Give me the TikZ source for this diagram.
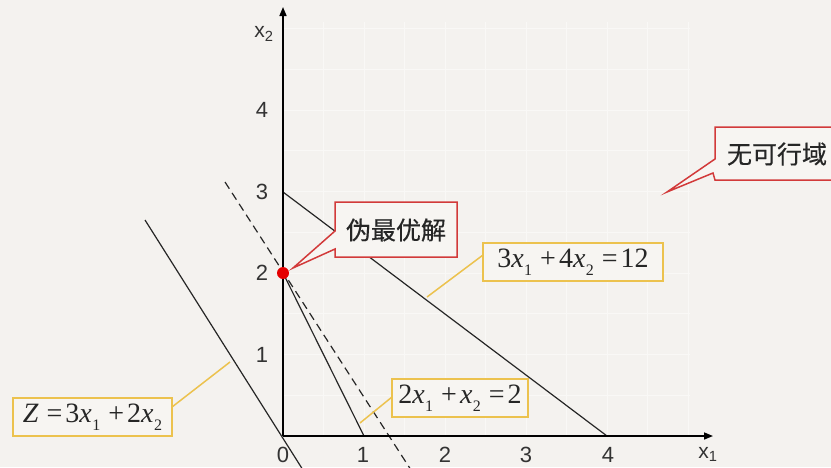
\documentclass[tikz,border=0pt]{standalone}
\usepackage{fontspec}
\setmainfont{Liberation Sans}
\newfontfamily\cjk[FakeBold=0.4]{Noto Sans CJK SC}
\newfontfamily\tms{Liberation Serif}
\usetikzlibrary{arrows.meta}
\definecolor{bg}{HTML}{F4F2EF}
\definecolor{gridc}{HTML}{F9F8F6}
\definecolor{boxbg}{HTML}{F7F5F2}
\definecolor{calred}{HTML}{D23A3A}
\definecolor{calyel}{HTML}{ECC24E}
\newcommand\vx[1]{\textit{x}\kern0.5pt\raisebox{-0.3em}{\fontsize{16}{16}\selectfont #1}}
\newcommand\opsp[1]{\hspace{8pt}#1\hspace{3pt}}
\tikzset{
  axis/.style={line width=1.6pt, -{Triangle[length=9pt,width=7pt]}},
  fline/.style={line width=1.2pt, black!85},
  num/.style={font=\fontsize{22}{22}\selectfont, text=black!80, inner sep=0pt},
  redbox/.style={draw=calred, line width=1.5pt, fill=boxbg, line join=miter},
  cjktext/.style={font=\cjk\fontsize{25}{25}\selectfont, text=black!85, inner sep=0pt},
  yelbox/.style={draw=calyel, line width=1.5pt, fill=boxbg, inner sep=0pt,
     font=\tms\fontsize{28}{28}\selectfont, text=black!85},
  yelline/.style={draw=calyel, line width=1.5pt},
}
\begin{document}
\begin{tikzpicture}[x=1pt,y=-1pt]
\fill[bg] (0,0) rectangle (831,467);
\useasboundingbox (0,0) rectangle (831,467);
% grid
\foreach \gx in {323.5,364,404.5,445,485.5,526,566.5,607,647.5,688}
  \draw[gridc, line width=0.8pt] (\gx,22) -- (\gx,436);
\foreach \gy in {395,354.5,313.75,273,232,191.5,150.75,110,69,28}
  \draw[gridc, line width=0.8pt] (283,\gy) -- (690,\gy);
% function lines
\draw[fline] (283,192) -- (607,436);
\draw[fline] (283,273) -- (364,436);
\draw[fline, dash pattern=on 8pt off 5pt] (225,182) -- (411,470);
\draw[fline] (145,220) -- (303,470);
% axes
\coordinate (O) at (283,436);
\coordinate (xend) at (713,436);
\coordinate (yend) at (283,7);
\draw[axis] (O) -- (xend);
\draw[axis] (O) -- (yend);
\node[num] (n0) at (283,455) {0};
\node[num] (nx1) at (363,455) {1};
\node[num] (nx2) at (445,455) {2};
\node[num] (nx3) at (526,455) {3};
\node[num] (nx4) at (608,455) {4};
\node[num] (ny1) at (262,355) {1};
\node[num] (ny2) at (262,273) {2};
\node[num] (ny3) at (262,192) {3};
\node[num] (ny4) at (262,110) {4};
\node[num, font=\fontsize{21}{21}\selectfont] (lx1) at (708,454) {x\textsubscript{1}};
\node[num, font=\fontsize{21}{21}\selectfont] (lx2) at (264,34) {x\textsubscript{2}};
% optimum point
\fill[red!90!black] (283,273) circle (6pt);
\coordinate (opt) at (293,268);
% red callout 1
\draw[redbox] (335,202) -- (457,202) -- (457,257) -- (335,257) -- (335,249) -- (opt) -- (335,231) -- cycle;
\node[cjktext] (c1) at (396,230) {伪最优解};
% red callout 2
\coordinate (nofeas) at (667,192);
\draw[redbox] (715,127) -- (840,127) -- (840,180) -- (715,180) -- (713,173) -- (nofeas) -- (715,159) -- cycle;
\node[cjktext] (c2) at (777,154) {无可行域};
% yellow callouts
\node[yelbox, minimum width=180pt, minimum height=38pt] (b3) at (573,262)
  {3\vx{1}\opsp{+}4\vx{2}\opsp{=}12};
\coordinate (b3a) at (483,255);
\coordinate (p3) at (427,297);
\draw[yelline] (b3a) -- (p3);
\node[yelbox, minimum width=136pt, minimum height=38pt] (b2) at (460,398)
  {2\vx{1}\opsp{+}\vx{2}\opsp{=}2};
\coordinate (b2a) at (392,397);
\coordinate (p2) at (360,423);
\draw[yelline] (b2a) -- (p2);
\node[yelbox, minimum width=159pt, minimum height=38pt] (bz) at (92.5,417)
  {\textit{Z}\opsp{=}3\vx{1}\opsp{+}2\vx{2}};
\coordinate (bza) at (172,407);
\coordinate (pz) at (230,362);
\draw[yelline] (bza) -- (pz);
\end{tikzpicture}
\end{document}
